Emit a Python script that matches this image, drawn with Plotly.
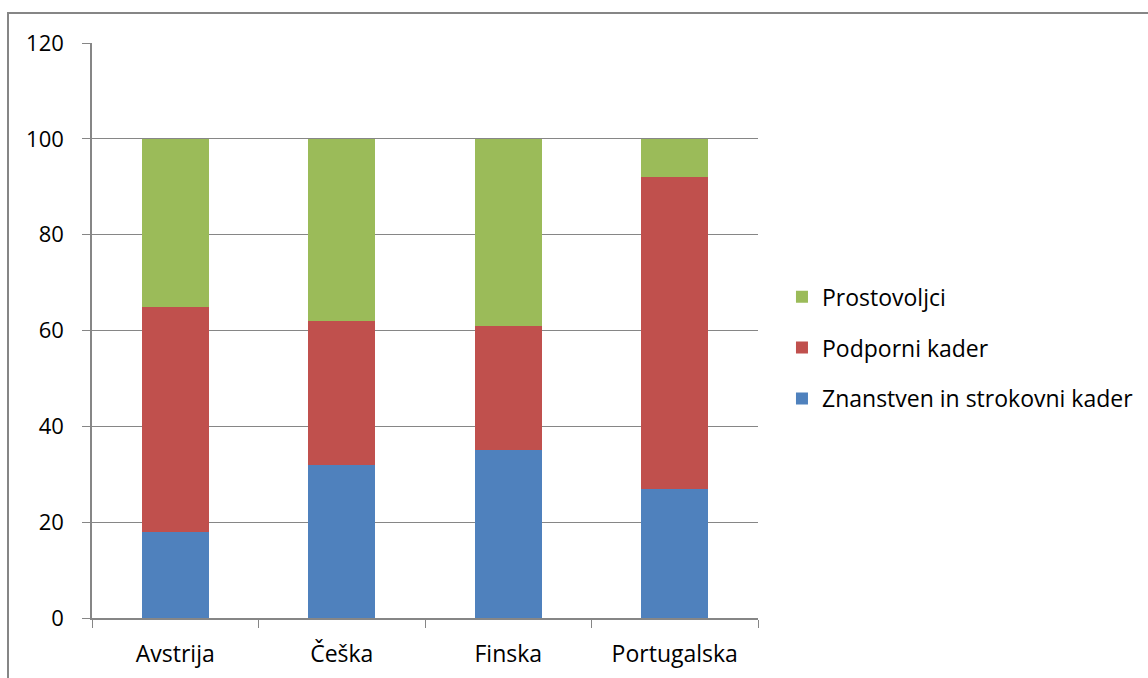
import plotly.graph_objects as go

countries = ["Avstrija", "Češka", "Finska", "Portugalska"]
znanstveni = [18, 32, 35, 27]
podporni = [47, 30, 26, 65]
prostovoljci = [35, 38, 39, 8]

series = [
    ("Znanstven in strokovni kader", znanstveni, "#4F81BD", 3),
    ("Podporni kader", podporni, "#C0504D", 2),
    ("Prostovoljci", prostovoljci, "#9BBB59", 1),
]

fig = go.Figure()
for name, vals, col, rank in series:
    fig.add_trace(go.Bar(x=countries, y=vals, name=name, marker_color=col,
                         marker_line_width=0, legendgroup=name, legendrank=rank))

axis_gray = "#868686"
fig.update_layout(
    width=1148, height=678,
    barmode="stack", bargap=0.6,
    margin=dict(l=92, r=390, t=43, b=60, autoexpand=False),
    paper_bgcolor="white", plot_bgcolor="white",
    font=dict(family="Open Sans", size=22, color="black"),
    showlegend=True,
    legend=dict(x=1.036, y=0.47, xanchor="left", yanchor="middle",
                traceorder="grouped", tracegroupgap=18,
                font=dict(size=23), itemwidth=30),
    xaxis=dict(showline=True, linecolor=axis_gray, linewidth=1.5,
               ticks="outside", tickson="boundaries", ticklen=8,
               tickcolor=axis_gray, ticklabelstandoff=15,
               tickfont=dict(size=23), automargin=False),
    yaxis=dict(range=[0, 120], dtick=20, showgrid=True, gridcolor=axis_gray,
               gridwidth=1, showline=True, linecolor=axis_gray, linewidth=1.5,
               ticks="outside", ticklen=8, tickcolor=axis_gray,
               ticklabelstandoff=14, zeroline=False, automargin=False),
)

# outer chart border
fig.add_shape(type="rect", xref="paper", yref="paper",
              x0=(8 - 92) / 666, x1=(1170 - 92) / 666,
              y0=(618 - 700) / 575, y1=1 + 30 / 575,
              line=dict(color=axis_gray, width=2), layer="below")

fig.write_html("out.html", config={"displayModeBar": False},
               post_script="document.body.style.margin='0px';")
